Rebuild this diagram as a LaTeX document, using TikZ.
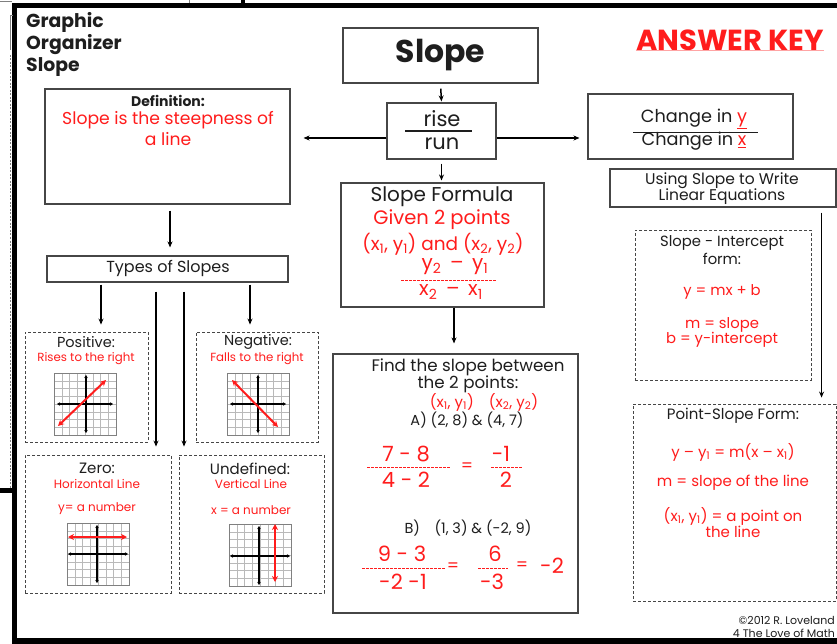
\documentclass[tikz,border=0pt]{standalone}
\usepackage{fontspec}
\setmainfont{Poppins}
\usetikzlibrary{arrows.meta,calc}
\definecolor{ak}{RGB}{255,28,28}
\definecolor{ink}{RGB}{30,30,30}
\definecolor{frm}{RGB}{70,70,70}
\definecolor{gridc}{RGB}{185,185,185}
\newcommand\fsz[1]{\fontsize{#1}{#1}\selectfont}
\begin{document}
\begin{tikzpicture}[x=1pt,y=-1pt,
  sbox/.style={draw=frm,line width=1.1pt,inner sep=0,fill=white},
  dbox/.style={draw=frm,line width=0.9pt,dash pattern=on 3pt off 2pt,inner sep=0},
  arr/.style={draw=black,line width=1.5pt,-{Stealth[length=6pt,width=5pt]}},
  lbl/.style={inner sep=0,text=ink,align=center},
  ans/.style={inner sep=0,text=ak,align=center},
  axisln/.style={draw=black,line width=1.1pt,{Stealth[length=3pt,width=3.5pt]}-{Stealth[length=3pt,width=3.5pt]}},
  redln/.style={draw=ak,line width=2pt,{Stealth[length=6pt,width=6pt]}-{Stealth[length=6pt,width=6pt]}},
  fracln/.style={draw=ak,line width=0.9pt,dash pattern=on 2.5pt off 1.5pt},
  sgrid/.pic={
    \foreach \i in {0,...,8} {
      \draw[gridc,line width=0.5pt] (\i*7.75,0) -- (\i*7.75,62);
      \draw[gridc,line width=0.5pt] (0,\i*7.75) -- (62,\i*7.75);
    }
    \draw[gray,line width=0.6pt] (0,0) rectangle (62,62);
  }]
\useasboundingbox (0,0) rectangle (837,644);
\fill[white] (0,0) rectangle (837,644);
% outer frame bits of the worksheet
\fill[black] (12,3) rectangle (837,8);
\fill[black] (12,3) rectangle (17,644);
\fill[black] (12,638) rectangle (837,644);
\fill[black] (0,488) rectangle (12,493);
\fill[black] (241,0) rectangle (245,5);
\draw[gray,line width=0.6pt] (189,0) -- (189,3);
\draw[gray,line width=0.6pt] (0,1) -- (12,1);
\draw[gray,line width=0.6pt] (13,15) -- (10,15) -- (10,50);
\draw[gray,line width=0.8pt,dash pattern=on 2pt off 1.5pt] (10,55) -- (10,488);

% title and answer key
\node[lbl,anchor=north west,align=left,font=\fontsize{18.8}{22}\selectfont\bfseries] (title) at (26,12) {Graphic\\Organizer\\Slope};
\node[ans,font=\fsz{29}\bfseries] (key) at (730,40) {ANSWER KEY};
\draw[ak!40,line width=0.8pt] (key.south west) -- (key.south east);

% boxes
\node[sbox,minimum width=195,minimum height=55,font=\fsz{31.5}\bfseries,text=ink] (slope) at (440.5,55.5) {Slope};
\node[sbox,minimum width=109,minimum height=56] (rr) at (441.5,131) {};
\node[sbox,minimum width=245,minimum height=115] (def) at (167.5,146.5) {};
\node[sbox,minimum width=241,minimum height=26] (types) at (167.5,269) {};
\node[sbox,minimum width=205,minimum height=65] (change) at (690.5,126.5) {};
\node[sbox,minimum width=226,minimum height=38] (using) at (723,188) {};
\node[sbox,minimum width=203,minimum height=124] (formula) at (442.5,245) {};
\node[sbox,minimum width=245,minimum height=259] (find) at (455.5,483.5) {};
\node[dbox,minimum width=176,minimum height=150] (si) at (723,305) {};
\node[dbox,minimum width=203,minimum height=197] (ps) at (734.5,502.5) {};
\node[dbox,minimum width=123,minimum height=110] (pos) at (86.5,387) {};
\node[dbox,minimum width=122,minimum height=110] (neg) at (257,387) {};
\node[dbox,minimum width=146,minimum height=138] (zero) at (98,524) {};
\node[dbox,minimum width=145,minimum height=138] (undef) at (251.5,524) {};

% connectors
\draw[arr,shorten <=5pt,shorten >=1pt] (slope.south) -- (rr.north);
\draw[arr,shorten >=8pt] ([yshift=-7pt]rr.east) -- ([yshift=-7pt]rr.east -| change.west);
\draw[arr,shorten >=13pt] ([yshift=-7pt]rr.west) -- ([yshift=-7pt]rr.west -| def.east);
\draw[arr,shorten <=4pt,shorten >=2pt] (rr.south) -- (rr.south |- formula.north);
\draw[arr,shorten >=10pt] ([xshift=11.5pt]formula.south) -- ([xshift=11.5pt]formula.south |- find.north);
\draw[arr,shorten <=6pt,shorten >=8pt] ([xshift=2.5pt]def.south) -- ([xshift=2.5pt]def.south |- types.north);
\draw[arr,shorten <=2pt,shorten >=7pt] ([xshift=-66.5pt]types.south) -- ([xshift=-66.5pt]types.south |- pos.north);
\draw[arr,shorten <=2pt,shorten >=7pt] ([xshift=82.5pt]types.south) -- ([xshift=82.5pt]types.south |- neg.north);
\draw[arr,shorten <=9pt,shorten >=8pt] ([xshift=-11.5pt]types.south) -- ([xshift=-11.5pt]types.south |- zero.north);
\draw[arr,shorten <=9pt,shorten >=8pt] ([xshift=16.5pt]types.south) -- ([xshift=16.5pt]types.south |- undef.north);
\draw[arr,shorten <=5pt,shorten >=6pt] ([xshift=-15pt]using.south east) -- ([xshift=-15pt]using.south east |- ps.north);

% rise / run
\node[lbl,font=\fsz{21}] (rise) at (442,119) {rise};
\node[lbl,font=\fsz{21}] (run) at (442,144) {run};
\draw[ink,line width=1.5pt] (405,131) -- (472,131);

% definition
\node[lbl,font=\fsz{14}\bfseries] (deft) at (168,101) {Definition:};
\node[ans,font=\fsz{17.2}] (def1) at (168,120) {Slope is the steepness of};
\node[ans,font=\fsz{17.2}] (def2) at (168,139) {a line};
\node[lbl,font=\fsz{16}] (typest) at (168,268) {Types of Slopes};

% positive
\node[lbl,font=\fsz{14.5}] (post) at (86,342) {Positive:};
\node[ans,font=\fsz{11.8}] (posr) at (86,359) {Rises to the right};
\begin{scope}[shift={(54,373)}]
  \pic {sgrid};
  \draw[axisln] (3,31) -- (59,31);
  \draw[axisln] (32,2) -- (32,60);
  \draw[redln] (4,53) -- (52,7);
\end{scope}
% negative
\node[lbl,font=\fsz{14.5}] (negt) at (258,342) {Negative:};
\node[ans,font=\fsz{11.8}] (negr) at (257,359) {Falls to the right};
\begin{scope}[shift={(227,373)}]
  \pic {sgrid};
  \draw[axisln] (3,31) -- (59,31);
  \draw[axisln] (31,2) -- (31,60);
  \draw[redln] (5,7) -- (51,54);
\end{scope}
% zero
\node[lbl,font=\fsz{15}] (zerot) at (97,468) {Zero:};
\node[ans,font=\fsz{12}] (zeror) at (97,484) {Horizontal Line};
\node[ans,font=\fsz{12}] (zeroe) at (97,509) {y= a number};
\begin{scope}[shift={(67,523)}]
  \pic {sgrid};
  \draw[axisln] (1,31) -- (61,31);
  \draw[axisln] (30,2) -- (30,60);
  \draw[redln] (1,14) -- (60,14);
\end{scope}
% undefined
\node[lbl,font=\fsz{15}] (undeft) at (250,469) {Undefined:};
\node[ans,font=\fsz{12}] (undefr) at (251,484) {Vertical Line};
\node[ans,font=\fsz{12}] (undefe) at (251,510) {x = a number};
\begin{scope}[shift={(229,524)}]
  \pic {sgrid};
  \draw[axisln] (1,32) -- (61,32);
  \draw[axisln] (30,2) -- (30,61);
  \draw[redln] (46,0) -- (46,58);
\end{scope}

% slope formula
\node[lbl,font=\fsz{20}] (sft) at (442,197) {Slope Formula};
\node[ans,font=\fsz{19.5}] (sf1) at (442,220) {Given 2 points};
\node[ans,font=\fsz{18.5}] (sf2) at (443,244) {(x\textsubscript{1}, y\textsubscript{1}) and (x\textsubscript{2}, y\textsubscript{2})};
\node[ans,font=\fsz{20}] (sf3) at (455,267) {y\textsubscript{2}\, –\, y\textsubscript{1}};
\draw[fracln] (401,280) -- (497,280);
\node[ans,font=\fsz{20}] (sf4) at (451,292) {x\textsubscript{2}\, –\, x\textsubscript{1}};

% find the slope
\node[lbl,font=\fsz{16.7}] (f1) at (468,367) {Find the slope between};
\node[lbl,font=\fsz{16.7}] (f2) at (468,384) {the 2 points:};
\node[ans,font=\fsz{15}] (f3) at (484,402) {(x\textsubscript{1}, y\textsubscript{1})\quad(x\textsubscript{2}, y\textsubscript{2})};
\node[lbl,font=\fsz{14.5}] (f4) at (467,420) {A) (2, 8) \& (4, 7)};
\node[ans,font=\fsz{21}] (a1) at (406,454) {7 - 8};
\draw[fracln] (367,467) -- (450,467);
\node[ans,font=\fsz{21}] (a2) at (406,480) {4 - 2};
\node[ans,font=\fsz{17}] (aeq) at (467,467) {=};
\node[ans,font=\fsz{21}] (a3) at (501,454) {-1};
\draw[fracln] (491,467) -- (523,467);
\node[ans,font=\fsz{21}] (a4) at (506,480) {2};
\node[lbl,font=\fsz{14.5}] (f5) at (468,528) {B)\quad (1, 3) \& (-2, 9)};
\node[ans,font=\fsz{21}] (b1) at (402,554) {9 - 3};
\draw[fracln] (362,568) -- (445,568);
\node[ans,font=\fsz{21}] (b2) at (403,582) {-2 -1};
\node[ans,font=\fsz{17}] (beq) at (453,567) {=};
\node[ans,font=\fsz{21}] (b3) at (495,554) {6};
\draw[fracln] (478,568) -- (508,568);
\node[ans,font=\fsz{21}] (b4) at (492,582) {-3};
\node[ans,font=\fsz{17}] (beq2) at (522,566) {=};
\node[ans,font=\fsz{21}] (b5) at (552,566) {-2};

% change in y / change in x
\node[lbl,font=\fsz{17.7}] (c1) at (694,119) {Change in \textcolor{ak}{\underline{y}}};
\draw[ink,line width=0.9pt] (633,132) -- (758,132);
\node[lbl,font=\fsz{17.7}] (c2) at (694,141) {Change in \textcolor{ak}{\underline{x}}};

% using slope
\node[lbl,font=\fsz{15.5}] (u1) at (722,181) {Using Slope to Write};
\node[lbl,font=\fsz{15.5}] (u2) at (722,197) {Linear Equations};

% slope-intercept
\node[lbl,font=\fsz{14.8}] (s1) at (722,243) {Slope - Intercept};
\node[lbl,font=\fsz{14.8}] (s2) at (722,259) {form:};
\node[ans,font=\fsz{14.8}] (s3) at (722,292) {y = mx + b};
\node[ans,font=\fsz{14.8}] (s4) at (722,325) {m = slope};
\node[ans,font=\fsz{14.8}] (s5) at (722,340) {b = y-intercept};

% point-slope
\node[lbl,font=\fsz{15}] (p1) at (733,416) {Point-Slope Form:};
\node[ans,font=\fsz{15}] (p2) at (733,452) {y – y\textsubscript{1} = m(x – x\textsubscript{1})};
\node[ans,font=\fsz{15}] (p3) at (733,483) {m = slope of the line};
\node[ans,font=\fsz{15}] (p4) at (733,516) {(x\textsubscript{1}, y\textsubscript{1}) = a point on};
\node[ans,font=\fsz{15}] (p5) at (733,532) {the line};

% copyright
\node[lbl,anchor=east,font=\fsz{11}] (cp1) at (835,620) {©2012 R. Loveland};
\node[lbl,anchor=east,font=\fsz{11}] (cp2) at (835,633) {4 The Love of Math};
\end{tikzpicture}
\end{document}
